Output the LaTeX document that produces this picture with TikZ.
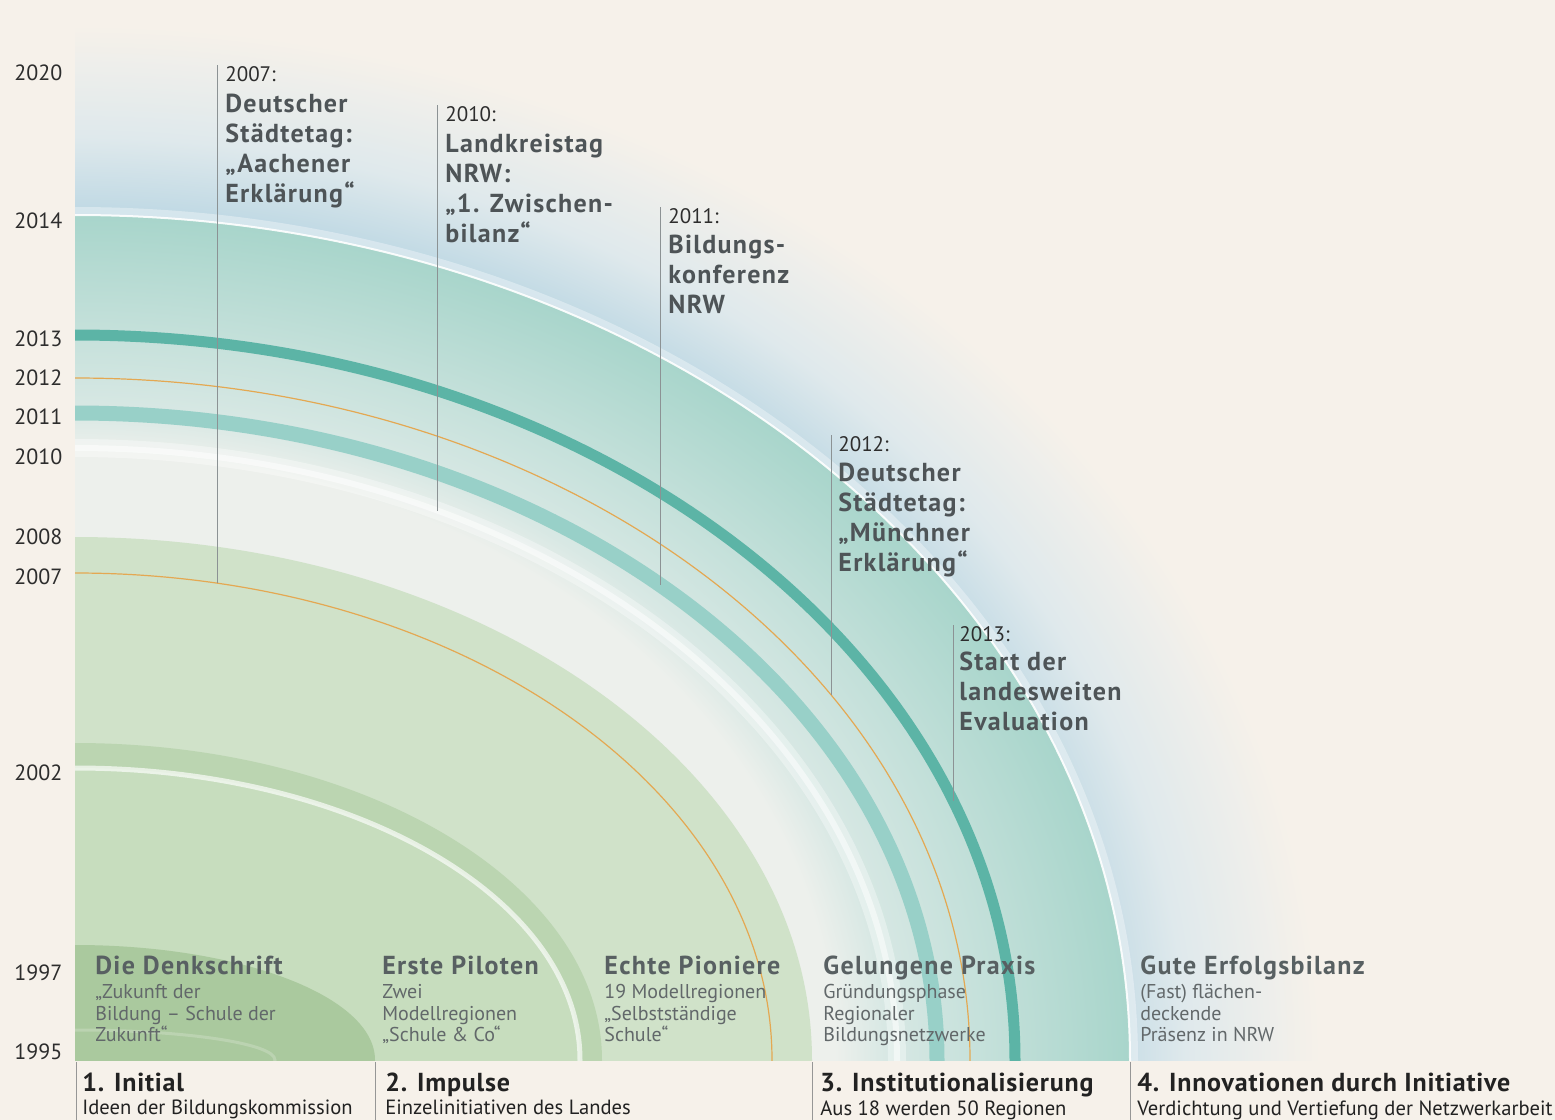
\documentclass[tikz,border=0pt]{standalone}
\usepackage{fontspec}
\setmainfont{PT Sans}
\newfontfamily\headfont{PT Sans}[LetterSpace=5]
\newfontfamily\phasefont{PT Sans}[LetterSpace=3]
\usepackage{tikz}
\usetikzlibrary{shadings}
\definecolor{paper}{RGB}{246,241,234}
\definecolor{hazeblue}{RGB}{188,215,227}
\definecolor{hazepale}{RGB}{223,233,236}
\definecolor{tealedge}{RGB}{168,213,203}
\definecolor{tealmid}{RGB}{198,225,219}
\definecolor{tealpale}{RGB}{216,232,228}
\definecolor{mistwhite}{RGB}{237,240,236}
\definecolor{tealline}{RGB}{92,180,166}
\definecolor{tealband}{RGB}{152,208,200}
\definecolor{amber}{RGB}{228,168,82}
\definecolor{green08}{RGB}{208,226,201}
\definecolor{green02}{RGB}{199,221,190}
\definecolor{band02}{RGB}{187,213,177}
\definecolor{green97}{RGB}{170,201,158}
\definecolor{pinline}{RGB}{140,146,148}
\definecolor{sepline}{RGB}{150,150,150}
\definecolor{evtext}{RGB}{78,84,87}
\definecolor{yeartext}{RGB}{45,45,45}
\definecolor{stgtext}{RGB}{88,96,98}
\definecolor{subtext}{RGB}{98,104,106}
\definecolor{phtext}{RGB}{34,34,34}
% soft glow round the outer ring, and the colour steps inside it
\pgfdeclareradialshading{haze}{\pgfpoint{0bp}{0bp}}{%
  color(0bp)=(hazeblue); color(20.3bp)=(hazeblue); color(22.3bp)=(hazepale);
  color(25bp)=(paper); color(50bp)=(paper)}
\pgfdeclareradialshading{rings}{\pgfpoint{0bp}{0bp}}{%
  color(0bp)=(mistwhite); color(18bp)=(mistwhite); color(19.2bp)=(tealpale);
  color(21.4bp)=(tealmid); color(25bp)=(tealedge); color(50bp)=(tealedge)}
\tikzset{
  yr/.style    ={font=\fontsize{11}{13}\selectfont, text=yeartext, anchor=west, inner sep=0pt},
  evyr/.style  ={font=\fontsize{10.5}{13}\selectfont, text=yeartext, anchor=north west, inner sep=0pt},
  evtxt/.style ={font=\headfont\fontsize{13}{15}\selectfont\bfseries, text=evtext, align=left, anchor=north west, inner sep=0pt},
  stg/.style   ={font=\headfont\fontsize{13}{15}\selectfont\bfseries, text=stgtext, anchor=north west, inner sep=0pt},
  stgsub/.style={font=\fontsize{10}{10.8}\selectfont, text=subtext, align=left, anchor=north west, inner sep=0pt},
  ph/.style    ={font=\phasefont\fontsize{13}{15}\selectfont\bfseries, text=phtext, anchor=north west, inner sep=0pt},
  phsub/.style ={font=\fontsize{10.3}{12}\selectfont, text=phtext, anchor=north west, inner sep=0pt},
  pin/.style   ={draw=pinline, line width=0.5pt},
  sep/.style   ={draw=sepline, line width=0.5pt},
}
\begin{document}
\begin{tikzpicture}[x=0.5pt,y=-0.5pt]
  \fill[paper] (0,0) rectangle (1555,1120);
  \useasboundingbox (0,0) rectangle (1555,1120);
  % rings, all round the lower left corner
  \begin{scope}
    \clip (75,0) rectangle (1555,1060);
    \shade[shading=haze] (75,1060) ellipse [x radius=1245,y radius=1035];
    \shade[shading=rings] (75,1060) ellipse [x radius=1055,y radius=845];
    \draw[white,opacity=0.35,line width=4pt] (75,1060) ellipse [x radius=1059,y radius=849];
    \draw[white,opacity=0.9,line width=1pt] (75,1060) ellipse [x radius=1055,y radius=845];
    \draw[tealline,line width=5.5pt] (75,1060) ellipse [x radius=940,y radius=725];
    \draw[amber,line width=0.6pt] (75,1060) ellipse [x radius=895,y radius=682];
    \draw[tealband,line width=7.5pt] (75,1060) ellipse [x radius=862,y radius=647];
    \draw[white,opacity=0.35,line width=9pt] (75,1060) ellipse [x radius=822,y radius=612];
    \draw[white,opacity=0.5,line width=3pt] (75,1060) ellipse [x radius=822,y radius=612];
    \fill[green08] (75,1060) ellipse [x radius=737,y radius=523];
    \draw[amber,line width=0.6pt] (75,1060) ellipse [x radius=697,y radius=487];
    \fill[band02] (75,1060) ellipse [x radius=527,y radius=317];
    \fill[green02] (75,1060) ellipse [x radius=505,y radius=292];
    \draw[white,opacity=0.65,line width=2.5pt] (75,1060) ellipse [x radius=505,y radius=292];
    \fill[green97] (75,1060) ellipse [x radius=300,y radius=115];
    \draw[white,opacity=0.2,line width=1.5pt] (75,1060) ellipse [x radius=200,y radius=30];
  \end{scope}

  % year scale
  \node[yr] (l2020) at (14,73) {2020};
  \node[yr] (l2014) at (14,221) {2014};
  \node[yr] (l2013) at (14,339) {2013};
  \node[yr] (l2012) at (14,378) {2012};
  \node[yr] (l2011) at (14,417) {2011};
  \node[yr] (l2010) at (14,457) {2010};
  \node[yr] (l2008) at (14,537) {2008};
  \node[yr] (l2007) at (14,577) {2007};
  \node[yr] (l2002) at (14,773) {2002};
  \node[yr] (l1997) at (14,973) {1997};
  \node[yr] (l1995) at (14,1052) {1995};

  % events
  \coordinate (p07) at (217,65);
  \coordinate (a07) at (217,583);
  \draw[pin] (p07) -- (a07);
  \node[evyr] (y07) at (225,66) {2007:};
  \node[evtxt] (t07) at (225,94) {Deutscher\\Städtetag:\\„Aachener\\Erklärung“};
  \coordinate (p10) at (437,105);
  \coordinate (a10) at (437,511);
  \draw[pin] (p10) -- (a10);
  \node[evyr] (y10) at (445,106) {2010:};
  \node[evtxt] (t10) at (445,134) {Landkreistag\\NRW:\\„1. Zwischen-\\bilanz“};
  \coordinate (p11) at (660,207);
  \coordinate (a11) at (660,585);
  \draw[pin] (p11) -- (a11);
  \node[evyr] (y11) at (668,208) {2011:};
  \node[evtxt] (t11) at (668,235) {Bildungs-\\konferenz\\NRW};
  \coordinate (p12) at (831,435);
  \coordinate (a12) at (831,695);
  \draw[pin] (p12) -- (a12);
  \node[evyr] (y12) at (838,436) {2012:};
  \node[evtxt] (t12) at (838,463) {Deutscher\\Städtetag:\\„Münchner\\Erklärung“};
  \coordinate (p13) at (953,625);
  \coordinate (a13) at (953,801);
  \draw[pin] (p13) -- (a13);
  \node[evyr] (y13) at (959,626) {2013:};
  \node[evtxt] (t13) at (959,652) {Start der\\landesweiten\\Evaluation};

  % stages inside the rings
  \node[stg] (s1) at (95,956) {Die Denkschrift};
  \node[stgsub] (s1b) at (95,984) {„Zukunft der\\Bildung – Schule der\\Zukunft“};
  \node[stg] (s2) at (382,956) {Erste Piloten};
  \node[stgsub] (s2b) at (382,984) {Zwei\\Modellregionen\\„Schule \& Co“};
  \node[stg] (s3) at (604,956) {Echte Pioniere};
  \node[stgsub] (s3b) at (604,984) {19 Modellregionen\\„Selbstständige\\Schule“};
  \node[stg] (s4) at (823,956) {Gelungene Praxis};
  \node[stgsub] (s4b) at (823,984) {Gründungsphase\\Regionaler\\Bildungsnetzwerke};
  \node[stg] (s5) at (1140,956) {Gute Erfolgsbilanz};
  \node[stgsub] (s5b) at (1140,984) {(Fast) flächen-\\deckende\\Präsenz in NRW};

  % phases
  \draw[sep] (76,1062) -- (76,1120);
  \draw[sep] (375,1062) -- (375,1120);
  \draw[sep] (812,1062) -- (812,1120);
  \draw[sep] (1130,1062) -- (1130,1120);
  \node[ph] (f1) at (82,1073) {1. Initial};
  \node[phsub] (f1b) at (82,1100) {Ideen der Bildungskommission};
  \node[ph] (f2) at (385,1073) {2. Impulse};
  \node[phsub] (f2b) at (385,1100) {Einzelinitiativen des Landes};
  \node[ph] (f3) at (820,1073) {3. Institutionalisierung};
  \node[phsub] (f3b) at (820,1100) {Aus 18 werden 50 Regionen};
  \node[ph] (f4) at (1137,1073) {4. Innovationen durch Initiative};
  \node[phsub] (f4b) at (1137,1100) {Verdichtung und Vertiefung der Netzwerkarbeit};
\end{tikzpicture}
\end{document}
